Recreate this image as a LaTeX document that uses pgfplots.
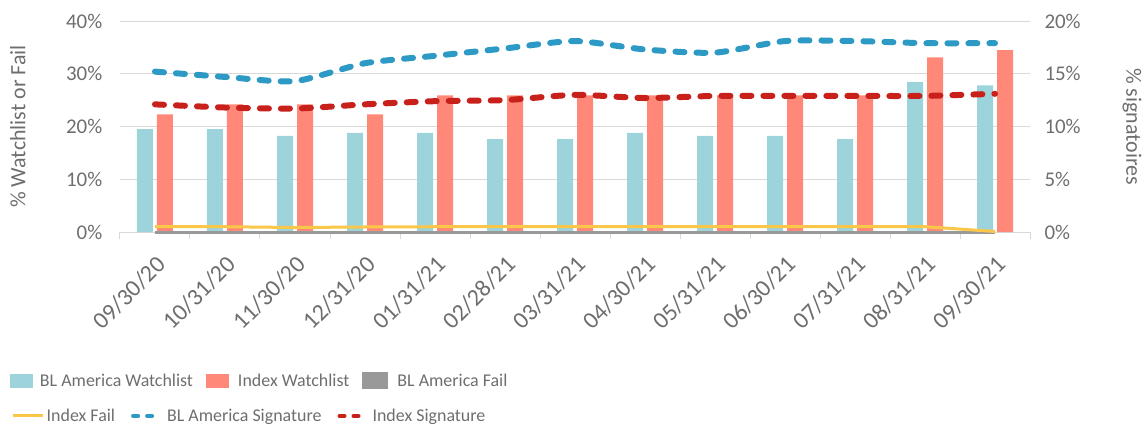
\documentclass[border=0pt]{standalone}
\usepackage{fontspec}
\setmainfont{Carlito}
\usepackage{pgfplots}
\pgfplotsset{compat=1.18}
\definecolor{cteal}{RGB}{157,212,219}
\definecolor{csalmon}{RGB}{255,136,120}
\definecolor{cgray}{RGB}{153,153,153}
\definecolor{cyellow}{RGB}{250,199,72}
\definecolor{cblue}{RGB}{44,154,197}
\definecolor{cred}{RGB}{200,32,26}
\definecolor{gridgray}{RGB}{217,217,217}
\definecolor{txtgray}{RGB}{110,110,110}
\pgfplotsset{
  common/.style={
    scale only axis, width=910bp, height=211bp,
    xmin=-0.5, xmax=12.5,
    /pgf/number format/assume math mode=true,
    every tick label/.append style={font=\fontsize{21}{25}\selectfont, text=txtgray},
    every axis label/.append style={font=\fontsize{22}{26}\selectfont, text=txtgray},
    y axis line style={draw=none},
    ytick style={draw=none},
    clip=false,
  },
  mylegend/.style={
    legend columns=-1,
    legend cell align=left,
    legend style={draw=none, fill=none, inner sep=0pt, outer sep=0pt,
      font=\fontsize{18}{22}\selectfont, text=txtgray,
      nodes={inner sep=0pt},
      column sep=0pt,
      /tikz/every even column/.append style={column sep=13bp}},
  }
}
\begin{document}
\begin{tikzpicture}
\path[use as bounding box] (-120bp,-197bp) rectangle (1028bp,232bp);
\begin{axis}[common, mylegend,
  ymin=0, ymax=40,
  axis x line*=bottom, axis y line*=left,
  x axis line style={draw=gridgray, line width=1bp},
  xtick={0,...,12},
  xticklabels={09/30/20,10/31/20,11/30/20,12/31/20,01/31/21,02/28/21,03/31/21,04/30/21,05/31/21,06/30/21,07/31/21,08/31/21,09/30/21},
  major x tick style={draw=none},
  minor xtick={-0.5,0.5,...,12.5},
  minor x tick style={draw=gridgray, line width=1bp},
  minor tick length=7bp,
  tick align=outside,
  xticklabel style={xshift=9bp, yshift=-22bp, rotate=45, anchor=east, font=\fontsize{24}{28}\selectfont},
  ytick={0,10,20,30,40},
  yticklabel={\pgfmathprintnumber{\tick}\%},
  yticklabel style={xshift=-10bp},
  ymajorgrids, grid style={draw=gridgray, line width=1bp},
  ylabel={\% Watchlist or Fail},
  ylabel style={at={(axis description cs:-0.1121,0.5)}, anchor=center},
  legend style={at={(axis description cs:-0.1209,-0.706)}, anchor=west},
]
\addplot[ybar, bar width=16bp, bar shift=-10bp, fill=cteal, draw=none,
  legend image code/.code={\fill[cteal] (0bp,-7bp) rectangle (23bp,7bp); \path (30bp,0bp);}]
  coordinates {(0,19.5) (1,19.5) (2,18.2) (3,18.8) (4,18.8) (5,17.6) (6,17.6) (7,18.8) (8,18.2) (9,18.2) (10,17.6) (11,28.4) (12,27.8)};
\addlegendentry{BL America Watchlist}
\addplot[ybar, bar width=16bp, bar shift=10bp, fill=csalmon, draw=none,
  legend image code/.code={\fill[csalmon] (0bp,-7bp) rectangle (23bp,7bp); \path (32bp,0bp);}]
  coordinates {(0,22.3) (1,24.2) (2,24.2) (3,22.3) (4,25.9) (5,25.9) (6,25.9) (7,25.9) (8,25.9) (9,25.9) (10,25.9) (11,33.1) (12,34.5)};
\addlegendentry{Index Watchlist}
\addplot[cgray, line width=3bp,
  legend image code/.code={\fill[cgray] (0bp,-7bp) rectangle (23bp,7bp); \path (32bp,0bp);}]
  coordinates {(0,0) (1,0) (2,0) (3,0) (4,0) (5,0) (6,0) (7,0) (8,0) (9,0) (10,0) (11,0) (12,0)};
\addlegendentry{BL America Fail}
\addplot[cyellow, line width=3bp, forget plot]
  coordinates {(0,1.0) (1,1.0) (2,0.85) (3,0.95) (4,1.0) (5,1.0) (6,1.0) (7,1.0) (8,1.0) (9,1.0) (10,1.0) (11,1.0) (12,0.1)};
\end{axis}
\begin{axis}[common, mylegend,
  ymin=0, ymax=20,
  axis y line*=right, axis x line=none,
  ytick={0,5,10,15,20},
  yticklabel={\pgfmathprintnumber{\tick}\%},
  yticklabel style={xshift=11bp},
  ylabel={\% signatoires},
  ylabel style={at={(axis description cs:1.1121,0.5)}, anchor=center, rotate=180},
  legend style={at={(axis description cs:-0.1187,-0.872)}, anchor=west},
]
\addlegendimage{legend image code/.code={\draw[cyellow, line width=3bp] (0bp,0bp) -- (30bp,0bp); \path (33bp,0bp);}}
\addlegendentry{Index Fail}
\addplot[cblue, line width=6bp, line cap=round, dash pattern=on 9bp off 12bp, smooth, tension=0.4,
  legend image code/.code={\draw[cblue, line width=4bp, line cap=round, dash pattern=on 5bp off 9bp] (2bp,0bp) -- (21bp,0bp); \path (0bp,0bp) (33bp,0bp);}]
  coordinates {(0,15.2) (1,14.7) (2,14.3) (3,16.0) (4,16.7) (5,17.4) (6,18.1) (7,17.3) (8,17.0) (9,18.1) (10,18.1) (11,17.9) (12,17.9)};
\addlegendentry{BL America Signature}
\addplot[cred, line width=6bp, line cap=round, dash pattern=on 9bp off 12bp, smooth, tension=0.4,
  legend image code/.code={\draw[cred, line width=4bp, line cap=round, dash pattern=on 5bp off 9bp] (2bp,0bp) -- (21bp,0bp); \path (0bp,0bp) (32bp,0bp);}]
  coordinates {(0,12.1) (1,11.8) (2,11.7) (3,12.1) (4,12.4) (5,12.5) (6,13.0) (7,12.7) (8,12.9) (9,12.9) (10,12.9) (11,12.9) (12,13.1)};
\addlegendentry{Index Signature}
\end{axis}
\end{tikzpicture}
\end{document}
